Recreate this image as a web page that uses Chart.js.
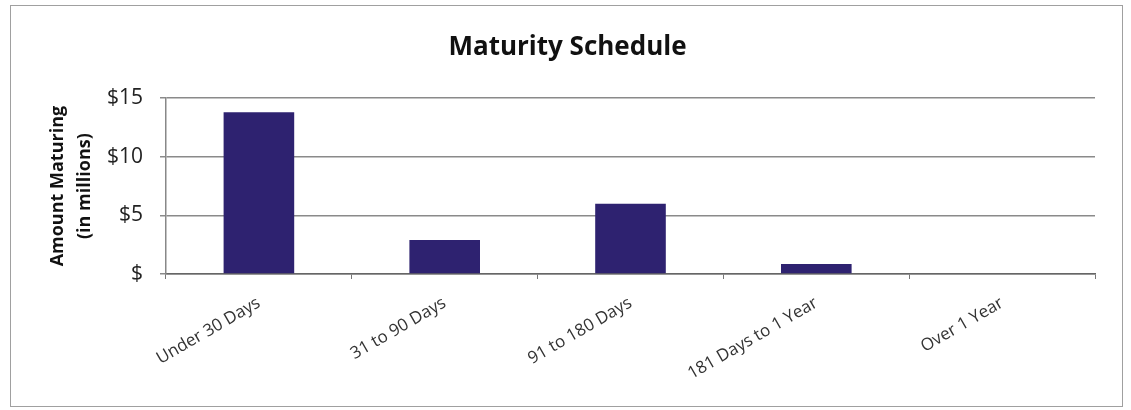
<!DOCTYPE html>
<html>
<head>
<meta charset="utf-8">
<script src="https://cdn.jsdelivr.net/npm/chart.js@4.4.0/dist/chart.umd.min.js"></script>
<style>
  html, body { margin: 0; padding: 0; background: #fff; }
  #wrap { width: 1131px; height: 410px; position: relative; }
</style>
</head>
<body>
<div id="wrap"><canvas id="c" width="1131" height="410"></canvas></div>
<script>
const categories = ["Under 30 Days", "31 to 90 Days", "91 to 180 Days", "181 Days to 1 Year", "Over 1 Year"];
const amounts = [13.8, 2.9, 6.0, 0.85, 0];
const yTicks = [0, 5, 10, 15];
const yTickLabels = ["$", "$5", "$10", "$15"];
const chartTitle = "Maturity Schedule";
const yTitle = ["Amount Maturing", "(in millions)"];

const framePlugin = {
  id: 'frame',
  beforeDraw(chart) {
    const ctx = chart.ctx;
    ctx.save();
    ctx.fillStyle = '#ffffff';
    ctx.fillRect(0, 0, chart.width, chart.height);
    ctx.strokeStyle = '#a0a0a0';
    ctx.lineWidth = 1;
    ctx.strokeRect(10.5, 5.5, 1112, 401);
    ctx.restore();
  }
};

new Chart(document.getElementById('c'), {
  type: 'bar',
  data: {
    labels: categories,
    datasets: [{
      data: amounts,
      backgroundColor: '#2e2270',
      borderWidth: 0,
      barPercentage: 0.76,
      categoryPercentage: 0.5
    }]
  },
  options: {
    responsive: false,
    animation: false,
    layout: { padding: { left: 40, right: 36, top: 10, bottom: 30 } },
    plugins: {
      legend: { display: false },
      tooltip: { enabled: false },
      title: {
        display: true,
        text: chartTitle,
        color: '#111',
        font: { family: 'Open Sans', size: 26, weight: 'bold' },
        padding: { top: 22, bottom: 35 }
      }
    },
    scales: {
      x: {
        offset: true,
        grid: { display: true, drawOnChartArea: false, color: '#777', tickLength: 5, offset: true },
        border: { display: true, color: '#666', width: 1.5 },
        ticks: {
          color: '#333',
          minRotation: 30, maxRotation: 30,
          font: { family: 'Open Sans', size: 17 },
          padding: 14,
          labelOffset: 0
        },
        afterFit(scale) { scale.height = 106; }
      },
      y: {
        min: 0, max: 15,
        afterBuildTicks(scale) { scale.ticks = yTicks.map(v => ({ value: v })); },
        grid: { color: '#8a8a8a', lineWidth: 1.5, tickLength: 6 },
        border: { display: true, color: '#888', width: 1.5 },
        ticks: {
          color: '#222',
          font: { family: 'Open Sans', size: 21 },
          padding: 17,
          callback(v) { const i = yTicks.indexOf(v); return i >= 0 ? yTickLabels[i] : ''; }
        },
        title: {
          display: true,
          text: yTitle,
          color: '#111',
          font: { family: 'Open Sans', size: 18, weight: 'bold', lineHeight: 1.5 },
          padding: { top: 4, bottom: 0 }
        },
        afterFit(scale) { scale.width = 126; }
      }
    }
  },
  plugins: [framePlugin]
});
</script>
</body>
</html>
